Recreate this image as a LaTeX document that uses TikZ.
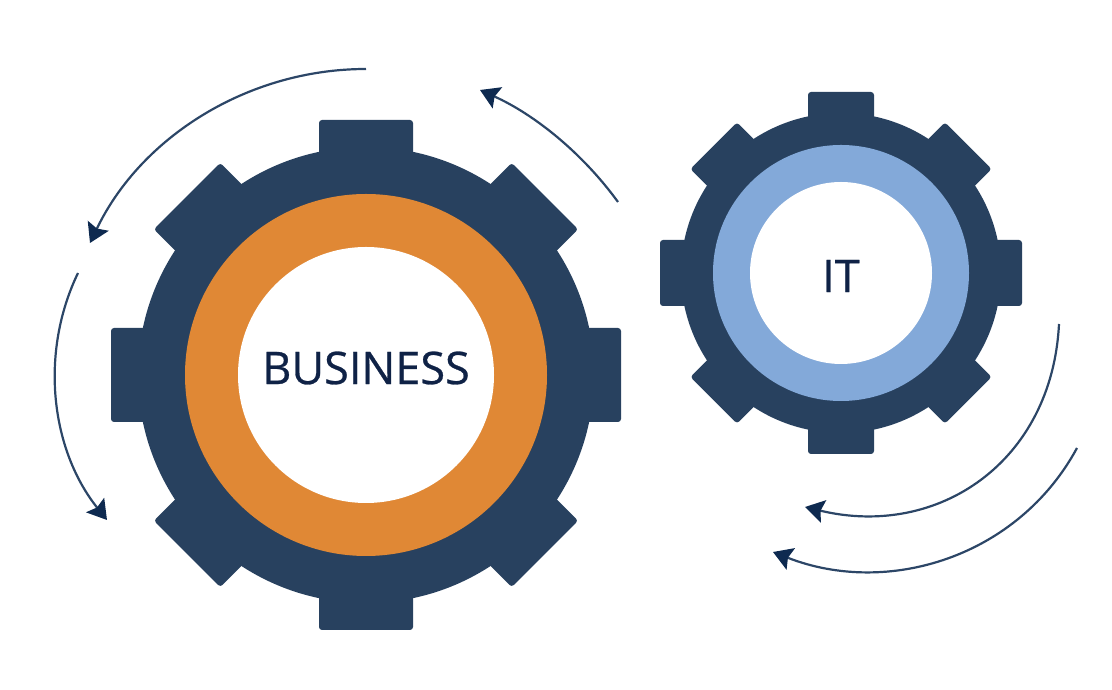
\documentclass[tikz,border=0pt]{standalone}
\usepackage{fontspec}
\setmainfont{Open Sans}[FakeBold=0.6]
\usetikzlibrary{arrows.meta}
\definecolor{gearblue}{HTML}{28415F}
\definecolor{linkblue}{HTML}{2C4667}
\definecolor{tipblue}{HTML}{0E2A50}
\definecolor{ringorange}{HTML}{E08835}
\definecolor{ringblue}{HTML}{83A9D9}
\definecolor{labelblue}{HTML}{0F2246}
\tikzset{
    disc/.style={circle, inner sep=0pt, outer sep=0pt},
    tooth/.style={fill=gearblue, rounded corners=3pt},
    turn/.style={linkblue, line width=2.2pt, -{Stealth[length=19pt,width=23pt,inset=3pt,color=tipblue]}},
    gearhub/.style={disc, fill=white},
    gearlabel/.style={text=labelblue, inner sep=0pt, font=\fontsize{45}{49}\selectfont}
}
\begin{document}
\begin{tikzpicture}[x=1pt, y=1pt]
    \useasboundingbox (0,0) rectangle (1112,690);
    % Big gear
    \begin{scope}[shift={(366,315)}]
        \foreach \a/\r in {0/255,45/253,90/255,135/253,180/255,225/253,270/255,315/253}
            \fill [tooth, rotate=\a] (-47,200) -- (-47,\r) -- (47,\r) -- (47,200) -- cycle;
    \end{scope}
    \node [disc, fill=gearblue, minimum size=456pt] (bizgear) at (366,315) {};
    \node [disc, fill=ringorange, minimum size=362pt] (bizring) at (bizgear) {};
    \node [gearhub, minimum size=256pt] (bizhub) at (bizgear) {};
    \node [gearlabel] (bizlabel) at (366,322) {BUSINESS};
    % Small gear
    \begin{scope}[shift={(841,417)}]
        \foreach \a/\r in {0/181,45/180,90/181,135/180,180/181,225/180,270/181,315/180}
            \fill [tooth, rotate=\a] (-33,140) -- (-33,\r) -- (33,\r) -- (33,140) -- cycle;
    \end{scope}
    \node [disc, fill=gearblue, minimum size=320pt] (itgear) at (841,417) {};
    \node [disc, fill=ringblue, minimum size=256pt] (itring) at (itgear) {};
    \node [gearhub, minimum size=182pt] (ithub) at (itgear) {};
    \node [gearlabel] (itlabel) at (841,414) {IT};
    % Ends of the arrows
    \coordinate (topstart) at (366,621);
    \coordinate (topend) at (90,447);
    \coordinate (leftstart) at (78,417);
    \coordinate (leftend) at (107,170);
    \coordinate (upperstart) at (618,488);
    \coordinate (upperend) at (480,600);
    \coordinate (innerstart) at (1059,366);
    \coordinate (innerend) at (805,183);
    \coordinate (outerstart) at (1077,242);
    \coordinate (outerend) at (773,138);
    % Arrows
    \draw [turn] (topstart) .. controls (248.2,621) and (140.9,553.2) .. (topend);
    \draw [turn] (leftstart) .. controls (39.1,336.3) and (51.1,240) .. (leftend);
    \draw [turn] (upperstart) .. controls (582.6,536.7) and (534.9,575.3) .. (upperend);
    \draw [turn] (innerstart) .. controls (1052,228) and (938,151) .. (innerend);
    \draw [turn] (outerstart) .. controls (1018,133) and (888,93) .. (outerend);
\end{tikzpicture}
\end{document}
